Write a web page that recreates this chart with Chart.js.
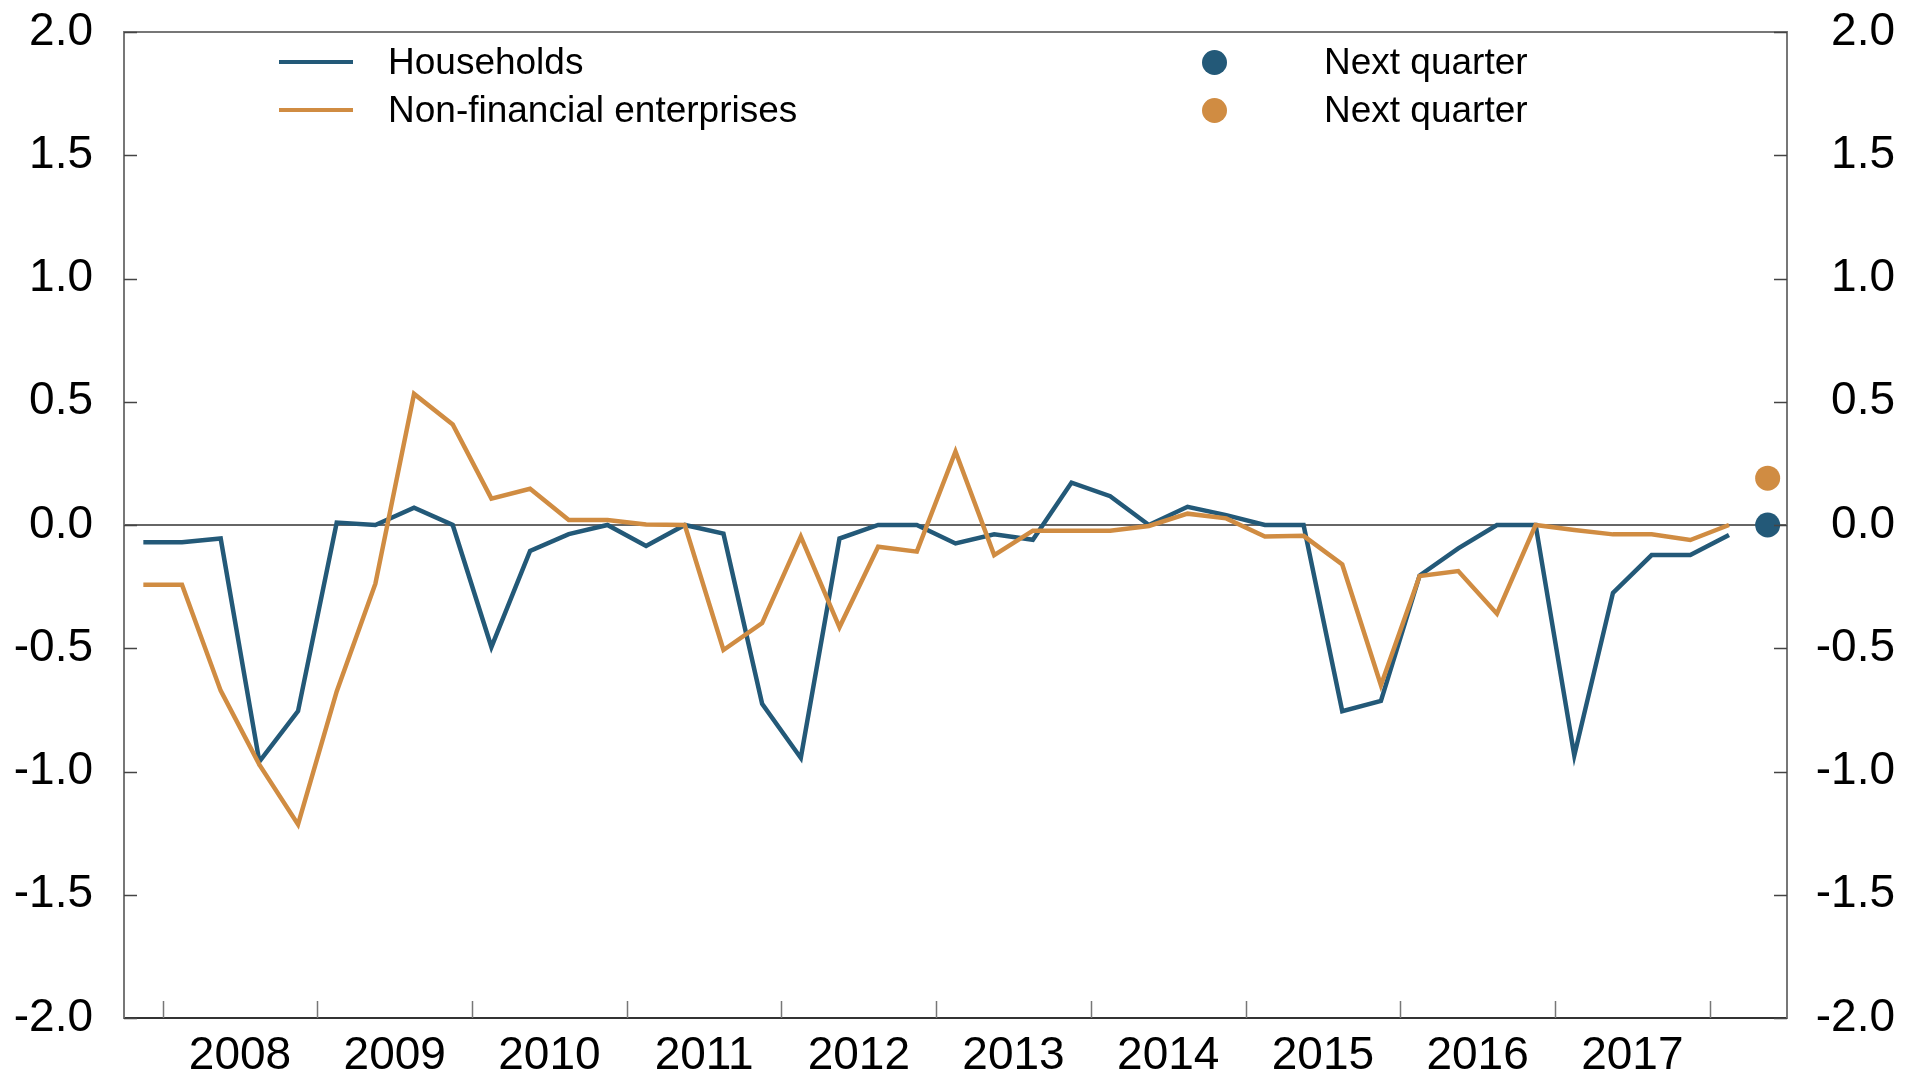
<!DOCTYPE html>
<html lang="en">
<head>
  <meta charset="UTF-8">
  <title>Households and non-financial enterprises</title>
  <script src="https://cdn.jsdelivr.net/npm/chart.js"></script>
<style>
  body {
    margin: 0;
    background: #fff;
    font-family: "Liberation Sans", Arial, sans-serif;
  }
  .wrap {
    position: relative;
    width: 1916px;
    height: 1072px;
  }
  .legend-item {
    position: absolute;
    height: 37px;
    line-height: 37px;
    font-size: 37px;
    color: #000;
    white-space: nowrap;
  }
  .legend-line {
    position: absolute;
    width: 74px;
    height: 4px;
  }
  .legend-dot {
    position: absolute;
    width: 25px;
    height: 25px;
    border-radius: 50%;
  }
</style>
</head>
<body>
  <div class="wrap">
    <canvas id="chart"></canvas>
    <!-- Legend -->
    <div class="legend-line" style="left:279px; top:60px; background:#235978;"></div>
    <div class="legend-item" style="left:388px; top:43px;">Households</div>
    <div class="legend-line" style="left:279px; top:108px; background:#d08c42;"></div>
    <div class="legend-item" style="left:388px; top:91px;">Non-financial enterprises</div>
    <div class="legend-dot" style="left:1202px; top:50px; background:#235978;"></div>
    <div class="legend-item" style="left:1324px; top:43px;">Next quarter</div>
    <div class="legend-dot" style="left:1202px; top:98px; background:#d08c42;"></div>
    <div class="legend-item" style="left:1324px; top:91px;">Next quarter</div>
  </div>
  <script>
    // Quarters on the x axis (2007Q4 .. 2018Q2)
    const quarters = [
      '2007Q4',
      '2008Q1', '2008Q2', '2008Q3', '2008Q4',
      '2009Q1', '2009Q2', '2009Q3', '2009Q4',
      '2010Q1', '2010Q2', '2010Q3', '2010Q4',
      '2011Q1', '2011Q2', '2011Q3', '2011Q4',
      '2012Q1', '2012Q2', '2012Q3', '2012Q4',
      '2013Q1', '2013Q2', '2013Q3', '2013Q4',
      '2014Q1', '2014Q2', '2014Q3', '2014Q4',
      '2015Q1', '2015Q2', '2015Q3', '2015Q4',
      '2016Q1', '2016Q2', '2016Q3', '2016Q4',
      '2017Q1', '2017Q2', '2017Q3', '2017Q4',
      '2018Q1', '2018Q2'
    ];
    const yearLabels = ['2008', '2009', '2010', '2011', '2012', '2013', '2014', '2015', '2016', '2017'];

    // Observed values, 2007Q4 .. 2018Q1
    const households = [
      -0.07, -0.07, -0.055, -0.96, -0.755, 0.01, 0.0, 0.07, 0.0, -0.495,
      -0.105, -0.037, 0.0, -0.085, 0.0, -0.035, -0.725, -0.945, -0.055, 0.0,
      0.0, -0.075, -0.038, -0.06, 0.172, 0.117, 0.0, 0.074, 0.04, 0.0,
      0.0, -0.755, -0.714, -0.205, -0.095, 0.0, 0.0, -0.935, -0.275, -0.122,
      -0.122, -0.041
    ];
    const enterprises = [
      -0.242, -0.242, -0.672, -0.972, -1.215, -0.675, -0.238, 0.532, 0.408, 0.107,
      0.147, 0.02, 0.02, 0.002, 0.0, -0.507, -0.398, -0.047, -0.415, -0.088,
      -0.108, 0.298, -0.122, -0.023, -0.023, -0.023, -0.004, 0.046, 0.027, -0.047,
      -0.044, -0.16, -0.65, -0.207, -0.187, -0.36, 0.0, -0.02, -0.038, -0.038,
      -0.061, 0.0
    ];
    // Expectations for next quarter (2018Q2)
    const householdsNext = [0.0];
    const enterprisesNext = [0.19];

    const BLUE = '#235978';
    const ORANGE = '#d08c42';
    const FONT = { family: '"Liberation Sans", Arial, sans-serif', size: 46 };

    const toPoints = (values, start) => values.map((v, i) => ({ x: start + i, y: v }));
    const nextIndex = quarters.length - 1;

    // Draws the top frame line and the inward tick marks
    const frameTicks = {
      id: 'frameTicks',
      afterDraw(chart) {
        const { ctx, chartArea } = chart;
        const y = chart.scales.y;
        const x = chart.scales.x;
        ctx.save();
        ctx.strokeStyle = '#777';
        ctx.lineWidth = 2;
        ctx.beginPath();
        ctx.moveTo(chartArea.left, chartArea.top);
        ctx.lineTo(chartArea.right, chartArea.top);
        ctx.stroke();

        ctx.strokeStyle = '#444';
        ctx.lineWidth = 1.5;
        y.ticks.forEach(t => {
          const py = Math.round(y.getPixelForValue(t.value)) + 0.5;
          ctx.beginPath();
          ctx.moveTo(chartArea.left, py);
          ctx.lineTo(chartArea.left + 13, py);
          ctx.moveTo(chartArea.right, py);
          ctx.lineTo(chartArea.right - 13, py);
          ctx.stroke();
        });

        ctx.strokeStyle = '#777';
        for (let k = 0; k <= yearLabels.length; k++) {
          const px = Math.round(x.getPixelForValue(0.5 + 4 * k)) + 0.5;
          ctx.beginPath();
          ctx.moveTo(px, chartArea.bottom);
          ctx.lineTo(px, chartArea.bottom - 17);
          ctx.stroke();
        }
        ctx.restore();
      }
    };

    const noPadY = s => { s.paddingTop = 0; s.paddingBottom = 0; };

    function initChart() {
      const ctx = document.getElementById('chart').getContext('2d');
      new Chart(ctx, {
        type: 'line',
        data: {
          datasets: [
            {
              label: 'Non-financial enterprises',
              data: toPoints(enterprises, 0),
              borderColor: ORANGE,
              borderWidth: 4.5,
              borderJoinStyle: 'miter',
              pointRadius: 0,
              tension: 0,
              order: 1
            },
            {
              label: 'Households',
              data: toPoints(households, 0),
              borderColor: BLUE,
              borderWidth: 4.5,
              borderJoinStyle: 'miter',
              pointRadius: 0,
              tension: 0,
              order: 2
            },
            {
              type: 'scatter',
              label: 'Next quarter',
              data: toPoints(householdsNext, nextIndex),
              backgroundColor: BLUE,
              borderWidth: 0,
              pointRadius: 12.5,
              order: 0
            },
            {
              type: 'scatter',
              label: 'Next quarter',
              data: toPoints(enterprisesNext, nextIndex),
              backgroundColor: ORANGE,
              borderWidth: 0,
              pointRadius: 12.5,
              order: 0
            }
          ]
        },
        options: {
          responsive: true,
          maintainAspectRatio: false,
          animation: false,
          events: [],
          layout: { padding: { top: 32, right: 21, left: 0, bottom: 0 } },
          plugins: {
            legend: { display: false },
            tooltip: { enabled: false }
          },
          scales: {
            x: {
              type: 'linear',
              min: -0.5,
              max: quarters.length - 0.5,
              afterFit: s => { s.height = 54; s.paddingLeft = 0; s.paddingRight = 0; },
              afterBuildTicks: s => {
                s.ticks = yearLabels.map((_, k) => ({ value: 2.5 + 4 * k }));
              },
              ticks: {
                autoSkip: false,
                maxRotation: 0,
                padding: 11,
                color: '#000',
                font: FONT,
                callback: v => yearLabels[Math.round((v - 2.5) / 4)]
              },
              grid: { display: false, drawTicks: false },
              border: { display: true, color: '#333', width: 2 }
            },
            y: {
              position: 'left',
              min: -2,
              max: 2,
              afterFit: s => { s.width = 124; noPadY(s); },
              ticks: {
                stepSize: 0.5,
                padding: 31,
                color: '#000',
                font: FONT,
                callback: v => v.toFixed(1)
              },
              grid: {
                drawTicks: false,
                lineWidth: 2,
                color: c => (c.tick && c.tick.value === 0 ? '#666' : 'rgba(0,0,0,0)')
              },
              border: { display: true, color: '#777', width: 2 }
            },
            y2: {
              position: 'right',
              min: -2,
              max: 2,
              afterFit: s => { s.width = 108; noPadY(s); },
              ticks: {
                stepSize: 0.5,
                padding: 0,
                crossAlign: 'far',
                color: '#000',
                font: FONT,
                callback: v => v.toFixed(1)
              },
              grid: { display: false, drawTicks: false },
              border: { display: true, color: '#777', width: 2 }
            }
          }
        },
        plugins: [frameTicks]
      });
    }

    document.addEventListener('DOMContentLoaded', initChart);
  </script>
</body>
</html>
